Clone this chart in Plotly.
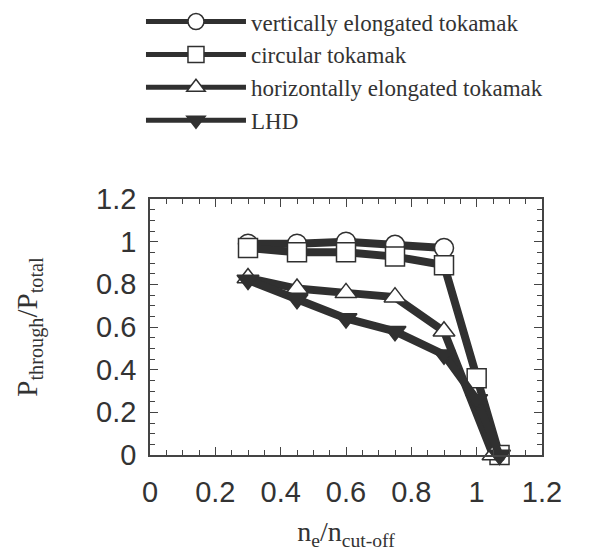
import plotly.graph_objects as go

# Data
x_vert = [0.3, 0.45, 0.6, 0.75, 0.9]
y_vert = [0.99, 0.99, 1.0, 0.985, 0.97]

x_circ = [0.3, 0.45, 0.6, 0.75, 0.9, 1.0, 1.07]
y_circ = [0.97, 0.95, 0.95, 0.93, 0.89, 0.36, 0.0]

x_horz = [0.3, 0.45, 0.6, 0.75, 0.9, 1.05]
y_horz = [0.83, 0.78, 0.76, 0.74, 0.58, 0.0]

x_lhd = [0.3, 0.45, 0.6, 0.75, 0.9, 1.0, 1.07]
y_lhd = [0.82, 0.73, 0.64, 0.58, 0.47, 0.26, 0.0]

names = ["vertically elongated tokamak", "circular tokamak",
         "horizontally elongated tokamak", "LHD"]

x_ticks = [0, 0.2, 0.4, 0.6, 0.8, 1, 1.2]
y_ticks = [0, 0.2, 0.4, 0.6, 0.8, 1, 1.2]
tick_text = ["0", "0.2", "0.4", "0.6", "0.8", "1", "1.2"]

LC = "#303030"
SERIF = "Liberation Serif, Times New Roman, serif"
SANS = "Liberation Sans, Arial, sans-serif"

fig = go.Figure()
series = [
    (x_vert, y_vert, "circle", "white"),
    (x_circ, y_circ, "square", "white"),
    (x_horz, y_horz, "triangle-up", "white"),
    (x_lhd, y_lhd, "triangle-down", LC),
]
for (xs, ys, sym, fill), nm in zip(series, names):
    fig.add_trace(go.Scatter(
        x=xs, y=ys, mode="lines+markers", name=nm, showlegend=False,
        line=dict(color=LC, width=8),
        marker=dict(symbol=sym, size=19, color=fill,
                    line=dict(color=LC, width=1.5)),
        cliponaxis=False,
    ))
# legend entries (thinner line as in the reference key)
for (xs, ys, sym, fill), nm in zip(series, names):
    fig.add_trace(go.Scatter(
        x=[None], y=[None], mode="lines+markers", name=nm,
        line=dict(color=LC, width=5),
        marker=dict(symbol=sym, size=16, color=fill,
                    line=dict(color=LC, width=1.5)),
    ))

axis_common = dict(
    showgrid=False, zeroline=False, showline=True, linecolor="#444",
    linewidth=1.5, mirror="ticks", ticks="inside", ticklen=8,
    tickwidth=1.2, tickcolor="#444", automargin=False,
    tickfont=dict(family=SANS, size=29, color="#333"),
    minor=dict(ticks="inside", ticklen=5, tickwidth=1, tickcolor="#444",
               dtick=0.05, showgrid=False),
)

fig.update_layout(
    width=616, height=560,
    paper_bgcolor="white", plot_bgcolor="white",
    margin=dict(l=142, r=82, t=191, b=113, autoexpand=False),
    showlegend=True,
    legend=dict(
        x=-0.023, y=1.777, xanchor="left", yanchor="top",
        font=dict(family=SERIF, size=23, color="#333"),
        bgcolor="rgba(0,0,0,0)", tracegroupgap=0, itemwidth=100,
    ),
    xaxis=dict(range=[0, 1.2], tickvals=x_ticks, ticktext=tick_text,
               ticklabelstandoff=10,
               title=dict(text="n<sub>e</sub>/n<sub>cut-off</sub>",
                          font=dict(family=SERIF, size=28, color="#333"),
                          standoff=15),
               **axis_common),
    yaxis=dict(range=[0, 1.2], tickvals=y_ticks, ticktext=tick_text,
               ticklabelstandoff=6,
               title=dict(text="P<sub>through</sub>/P<sub>total</sub>",
                          font=dict(family=SERIF, size=29, color="#333"),
                          standoff=50),
               **axis_common),
)

fig.write_html("out.html")
